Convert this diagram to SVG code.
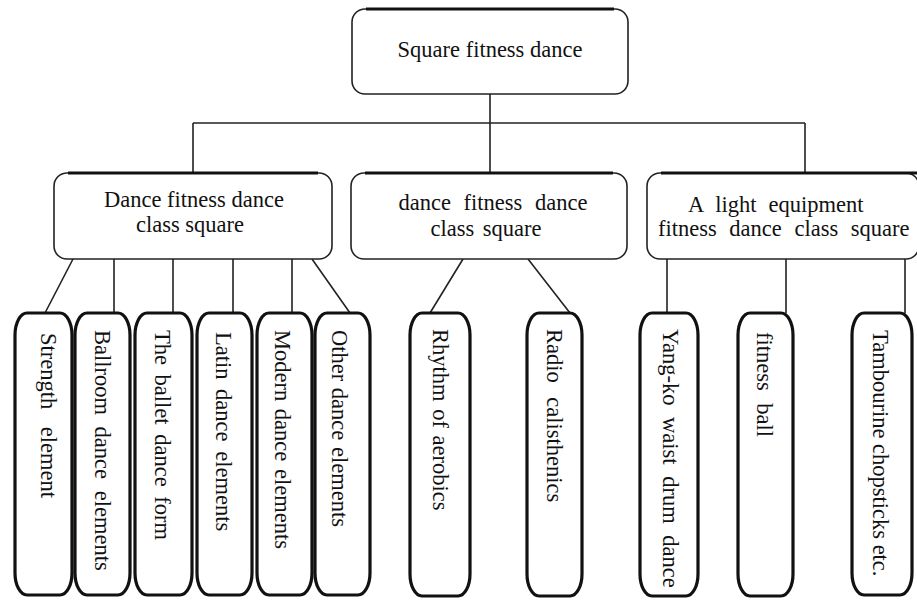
<svg xmlns="http://www.w3.org/2000/svg" width="917" height="600" viewBox="0 0 917 600">
<style>
text{font-family:"Liberation Serif","Times New Roman",serif;font-size:22.5px;fill:#111}
.box{fill:#fff;stroke:#222;stroke-width:1.6}
.top{fill:none;stroke:#111;stroke-width:3.2}
.leaf{fill:#fff;stroke:#111;stroke-width:3.2}
.c{fill:none;stroke:#222;stroke-width:1.6}
.m{text-anchor:middle}
</style>
<rect width="917" height="600" fill="#fff"/>
<g id="connectors">
<path class="c" d="M490 94V123M193 123H805M193 123V173M490 123V173M805 123V173"/>
<path class="c" d="M73 259L45 313M114 259V313M173 259V313M233 259V313M292 259V313M312 259L350 313"/>
<path class="c" d="M463 259L430 313M528 259L570 313"/>
<path class="c" d="M667 259V313M786 259V313M905 259V313"/>
</g>
<g id="root">
<rect class="box" x="352" y="9" width="276" height="85" rx="13"/>
<path class="top" d="M366 9H614"/>
<text class="m" x="490" y="57">Square fitness dance</text>
</g>
<g id="cat1">
<rect class="box" x="54" y="173" width="278" height="86" rx="13"/>
<path class="top" d="M68 173H318"/>
<text class="m" x="194" y="207">Dance fitness dance</text>
<text class="m" x="190" y="232">class square</text>
</g>
<g id="cat2">
<rect class="box" x="351" y="173" width="276" height="86" rx="13"/>
<path class="top" d="M365 173H613"/>
<text class="m" x="493" y="210" word-spacing="7">dance fitness dance</text>
<text class="m" x="486" y="236" word-spacing="3">class square</text>
</g>
<g id="cat3">
<rect class="box" x="647" y="173" width="272" height="86" rx="13"/>
<path class="top" d="M661 173H917"/>
<text x="688" y="212" word-spacing="6.5">A light equipment</text>
<text x="658" y="236" word-spacing="7">fitness dance class square</text>
</g>
<g id="leaf1"><rect class="leaf" x="15" y="313" width="57" height="282" rx="12" ry="22"/><text transform="translate(41 333) rotate(90)" word-spacing="12">Strength element</text></g>
<g id="leaf2"><rect class="leaf" x="75" y="313" width="55" height="282" rx="12" ry="22"/><text transform="translate(95 330) rotate(90)" word-spacing="6">Ballroom dance elements</text></g>
<g id="leaf3"><rect class="leaf" x="135" y="313" width="57" height="282" rx="12" ry="22"/><text transform="translate(155 330) rotate(90)" word-spacing="4">The ballet dance form</text></g>
<g id="leaf4"><rect class="leaf" x="197" y="313" width="55" height="282" rx="12" ry="22"/><text transform="translate(216 332) rotate(90)" word-spacing="4">Latin dance elements</text></g>
<g id="leaf5"><rect class="leaf" x="257" y="313" width="55" height="282" rx="12" ry="22"/><text transform="translate(275 330) rotate(90)" word-spacing="2">Modern dance elements</text></g>
<g id="leaf6"><rect class="leaf" x="315" y="313" width="55" height="282" rx="12" ry="22"/><text transform="translate(332 330) rotate(90)" word-spacing="1">Other dance elements</text></g>
<g id="leaf7"><rect class="leaf" x="410" y="313" width="60" height="283" rx="12" ry="22"/><text transform="translate(433 329) rotate(90)" word-spacing="2">Rhythm of aerobics</text></g>
<g id="leaf8"><rect class="leaf" x="527" y="313" width="55" height="283" rx="12" ry="22"/><text transform="translate(547 329) rotate(90)" word-spacing="9">Radio calisthenics</text></g>
<g id="leaf9"><rect class="leaf" x="640" y="313" width="58" height="283" rx="12" ry="22"/><text transform="translate(663 329) rotate(90)" word-spacing="6">Yang-ko waist drum dance</text></g>
<g id="leaf10"><rect class="leaf" x="738" y="313" width="55" height="283" rx="12" ry="22"/><text transform="translate(757 332) rotate(90)" word-spacing="7">fitness ball</text></g>
<g id="leaf11"><rect class="leaf" x="852" y="313" width="60" height="282" rx="12" ry="22"/><text transform="translate(873 330) rotate(90)">Tambourine chopsticks etc.</text></g>
</svg>
